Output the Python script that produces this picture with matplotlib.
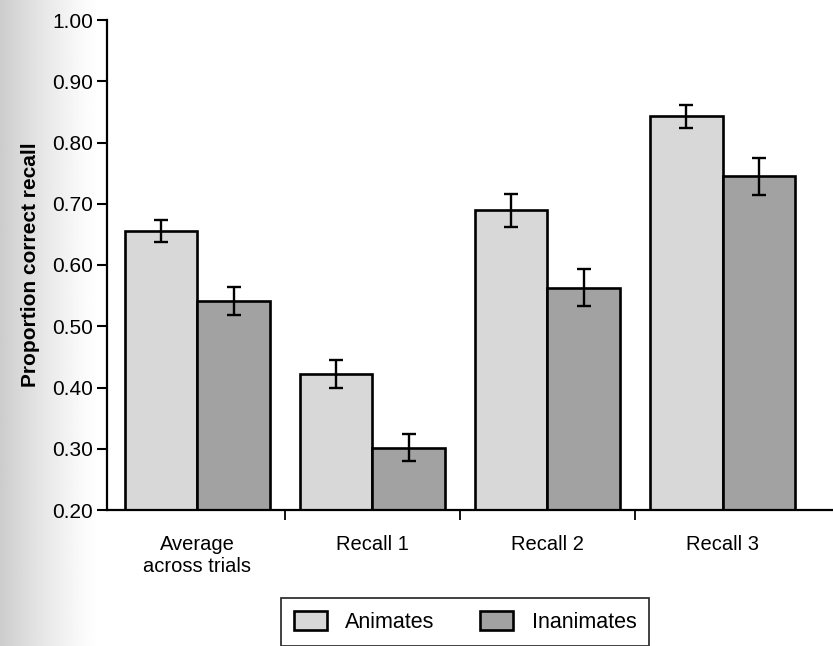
import matplotlib
matplotlib.use("Agg")
import matplotlib.pyplot as plt
import numpy as np

categories = ["Average\nacross trials", "Recall 1", "Recall 2", "Recall 3"]
animates = [0.655, 0.422, 0.689, 0.843]
animates_err = [0.018, 0.023, 0.027, 0.019]
inanimates = [0.541, 0.302, 0.563, 0.745]
inanimates_err = [0.023, 0.022, 0.030, 0.030]
yticks = [0.20, 0.30, 0.40, 0.50, 0.60, 0.70, 0.80, 0.90, 1.00]

plt.rcParams['font.family'] = ['Liberation Sans', 'DejaVu Sans']

fig = plt.figure(figsize=(8.33, 6.46), dpi=100)

# scan shading on the left edge
bg = fig.add_axes([0, 0, 1, 1], zorder=-10)
grad = np.linspace(0, 1, 833)
shade = 1 - 0.2 * np.clip(1 - grad / 0.12, 0, 1) ** 1.3
bg.imshow(np.tile(shade, (10, 1)), cmap='gray', vmin=0, vmax=1, aspect='auto',
          extent=[0, 1, 0, 1])
bg.set_axis_off()

ax = fig.add_axes([107/833, 1 - 510/646, 1 - 107/833 + 0.002, (510 - 20)/646])
ax.patch.set_alpha(0)

x = np.arange(len(categories))
w = 0.415
ek = dict(ecolor='black', elinewidth=1.7, capsize=4.7, capthick=1.7)
ax.bar(x - w/2, animates, w, bottom=0, yerr=animates_err, color='#d8d8d8',
       edgecolor='black', linewidth=1.9, error_kw=ek, label='Animates')
ax.bar(x + w/2, inanimates, w, bottom=0, yerr=inanimates_err, color='#a2a2a2',
       edgecolor='black', linewidth=1.9, error_kw=ek, label='Inanimates')

ax.set_ylim(0.2, 1.0)
ax.set_xlim(-0.515, 3.64)
ax.set_yticks(yticks)
ax.set_yticklabels([f"{v:.2f}" for v in yticks], fontsize=15)
ax.set_xticks(x)
ax.set_xticklabels(categories, fontsize=14.5)
ax.set_xticks([0.5, 1.5, 2.5], minor=True)
ax.tick_params(axis='x', which='major', length=0, pad=18)
ax.tick_params(axis='x', which='minor', length=7, width=1.3, direction='out')
ax.tick_params(axis='y', length=7, width=1.5, direction='out', pad=3)
for s in ['top', 'right']:
    ax.spines[s].set_visible(False)
for s in ['left', 'bottom']:
    ax.spines[s].set_linewidth(1.6)
ax.set_ylabel("Proportion correct recall", fontsize=15, fontweight='bold', labelpad=9)

leg = fig.legend(loc='upper center', bbox_to_anchor=(465/833, 1 - 598/646), ncol=2,
                 fontsize=15.5, frameon=True, fancybox=False, edgecolor='black',
                 handlelength=1.55, handleheight=1.0, columnspacing=2.1,
                 borderpad=0.6, handletextpad=0.85, borderaxespad=0)
leg.get_frame().set_linewidth(1.3)

fig.savefig("out.png", dpi=100)
